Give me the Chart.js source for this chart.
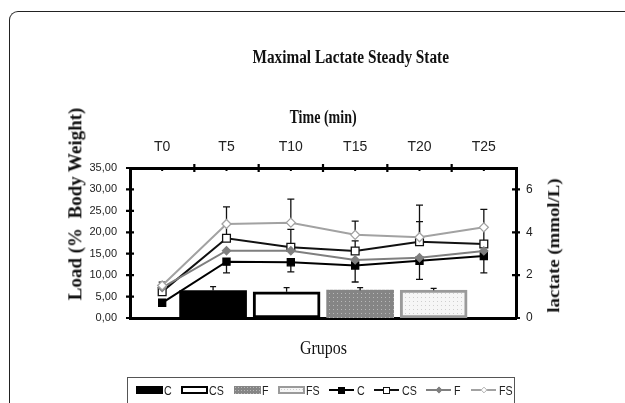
<!DOCTYPE html>
<html><head><meta charset="utf-8">
<script src="https://cdn.jsdelivr.net/npm/chart.js@4/dist/chart.umd.min.js"></script>
<style>
html,body{margin:0;padding:0;background:#fff;}
#wrap{position:relative;width:625px;height:403px;overflow:hidden;background:#fff;}
#frame{position:absolute;left:9px;top:11px;width:700px;height:500px;border-left:1.6px solid #222;border-top:1.6px solid #222;border-top-left-radius:9px;}
#c{position:absolute;left:0;top:0;}
.t{position:absolute;left:0;top:0;white-space:nowrap;font-family:"Liberation Serif","Times New Roman",serif;color:#111;line-height:1;}
#legend{position:absolute;left:127px;top:377px;width:388px;height:40px;border:1px solid #555;box-sizing:border-box;}
.sw{position:absolute;box-sizing:border-box;}
.lt{position:absolute;font-family:"Liberation Sans Narrow","Liberation Sans",Arial,sans-serif;font-size:13px;color:#222;line-height:1;transform-origin:0 50%;transform:translateY(-50%) scaleX(0.82);}
</style></head>
<body>
<div id="wrap">
  <div id="frame"></div>
  <canvas id="c" width="625" height="403"></canvas>
  <div class="t" id="title" style="font-weight:bold;font-size:18px;">Maximal Lactate Steady State</div>
  <div class="t" id="ttime" style="font-weight:bold;font-size:18px;">Time (min)</div>
  <div class="t" id="tgrp" style="font-size:18px;">Grupos</div>
  <div class="t" id="tload" style="font-weight:bold;font-size:18px;">Load (%&nbsp; Body Weight)</div>
  <div class="t" id="tlac" style="font-weight:bold;font-size:17px;">lactate (mmol/L)</div>
  <div id="legend"></div>
</div>
<script>
// ---- data ----
const groups = ['C', 'CS', 'F', 'FS'];
const timePoints = ['T0', 'T5', 'T10', 'T15', 'T20', 'T25'];
const loadMeans = [6.4, 6.1, 6.5, 6.5];
const loadErr = [0.9, 1.0, 0.57, 0.4];
const lacC  = [0.71, 2.63, 2.60, 2.45, 2.67, 2.89];
const lacCS = [1.23, 3.72, 3.30, 3.13, 3.56, 3.45];
const lacF  = [1.42, 3.14, 3.14, 2.71, 2.81, 3.13];
const lacFS = [1.52, 4.39, 4.45, 3.88, 3.77, 4.23];
const errC  = [0.17, 0.52, 0.45, 0.77, 0.87, 0.78];
const errCS = [0.20, 0.60, 0.84, 0.47, 0.94, 0.75];
const errFS = [0.15, 0.80, 1.10, 0.64, 1.50, 0.84];

// ---- text placement ----
function place(id, cx, cy, w, rot) {
  const el = document.getElementById(id);
  const s = w / el.offsetWidth;
  el.style.left = (cx - el.offsetWidth / 2) + 'px';
  el.style.top = (cy - el.offsetHeight / 2) + 'px';
  el.style.transform = (rot ? 'rotate(-90deg) ' : '') + 'scaleX(' + s + ')';
}
place('title', 350, 57, 196, false);
place('ttime', 323, 117, 67, false);
place('tgrp', 323, 348, 47, false);
place('tload', 75, 204, 193, true);
place('tlac', 553, 245, 134, true);

// ---- patterns ----
function dots(bg, dot) {
  const c = document.createElement('canvas'); c.width = 4; c.height = 4;
  const g = c.getContext('2d');
  g.fillStyle = bg; g.fillRect(0, 0, 4, 4);
  g.fillStyle = dot; g.fillRect(1, 1, 1, 1);
  return g.createPattern(c, 'repeat');
}
const patF = dots('#858585', '#b8b8b8');
const patFS = dots('#f6f6f6', '#cfcfcf');

const barFill = ['#000000', '#ffffff', patF, patFS];
const barBorder = ['#000000', '#000000', '#858585', '#9a9a9a'];
const barBorderW = [0, 3, 0, 3];

const lineDefs = [
  {label: groups[0], data: lacC, color: '#000000', style: 'rect', fill: '#000000', r: 5, err: errC, dir: -1},
  {label: groups[1], data: lacCS, color: '#111111', style: 'rect', fill: '#ffffff', r: 5.5, err: errCS, dir: 1},
  {label: groups[2], data: lacF, color: '#7f7f7f', style: 'rectRot', fill: '#7f7f7f', r: 4, err: null, dir: 1},
  {label: groups[3], data: lacFS, color: '#a2a2a2', style: 'rectRot', fill: '#ffffff', r: 4.5, err: errFS, dir: 1}
];

const errPlugin = {
  id: 'errbars',
  beforeDatasetsDraw(chart) {
    const ctx = chart.ctx, ys = chart.scales.y1;
    ctx.save();
    ctx.strokeStyle = '#111'; ctx.lineWidth = 1.3;
    chart.data.datasets.forEach((ds, di) => {
      if (!ds.errVals) return;
      const meta = chart.getDatasetMeta(di);
      meta.data.forEach((pt, i) => {
        const e = ds.errVals[i];
        const yEnd = ys.getPixelForValue(ds.data[i] + ds.errDir * e);
        ctx.beginPath();
        ctx.moveTo(pt.x, pt.y); ctx.lineTo(pt.x, yEnd);
        ctx.moveTo(pt.x - 3.5, yEnd); ctx.lineTo(pt.x + 3.5, yEnd);
        ctx.stroke();
      });
    });
    ctx.restore();
  },
  afterDatasetsDraw(chart) {
    const ctx = chart.ctx, ys = chart.scales.y;
    const meta = chart.getDatasetMeta(0);
    ctx.save();
    ctx.strokeStyle = '#111'; ctx.lineWidth = 1.3;
    meta.data.forEach((bar, i) => {
      const x = bar.x;
      const y0 = ys.getPixelForValue(loadMeans[i]);
      const y1 = ys.getPixelForValue(loadMeans[i] + loadErr[i]);
      ctx.beginPath();
      ctx.moveTo(x, y0); ctx.lineTo(x, y1);
      ctx.moveTo(x - 3, y1); ctx.lineTo(x + 3, y1);
      ctx.stroke();
    });
    ctx.restore();
  }
};

const tickPlugin = {
  id: 'crossTicks',
  afterDraw(chart) {
    const ctx = chart.ctx, a = chart.chartArea;
    const y = chart.scales.y, y1 = chart.scales.y1, xt = chart.scales.xTop;
    ctx.save();
    ctx.strokeStyle = '#000'; ctx.lineWidth = 2.2;
    ctx.beginPath();
    y.ticks.forEach(t => { const p = y.getPixelForValue(t.value); ctx.moveTo(a.left - 4, p); ctx.lineTo(a.left + 4, p); });
    y1.ticks.forEach(t => { const p = y1.getPixelForValue(t.value); ctx.moveTo(a.right - 4, p); ctx.lineTo(a.right + 4, p); });
    for (let i = 0; i < timePoints.length - 1; i++) {
      const p = xt.getPixelForValue(i + 0.5);
      ctx.moveTo(p, a.top - 4); ctx.lineTo(p, a.top + 4);
    }
    ctx.stroke();
    ctx.lineWidth = 2;
    ctx.beginPath();
    for (let i = 0; i < timePoints.length; i++) {
      const p = xt.getPixelForValue(i);
      ctx.moveTo(p, a.top - 1); ctx.lineTo(p, a.top + 3);
    }
    ctx.stroke();
    ctx.restore();
  }
};

const tickFont = {family: '"Liberation Sans Narrow","Liberation Sans",Arial,sans-serif'};

const datasets = [{
  type: 'bar',
  label: 'Load',
  data: loadMeans.map((v, i) => ({x: i + 1, y: v})),
  xAxisID: 'x', yAxisID: 'y',
  backgroundColor: barFill, borderColor: barBorder, borderWidth: barBorderW,
  borderSkipped: false, grouped: false,
  barThickness: 67, order: 10
}].concat(lineDefs.map((d, k) => ({
  type: 'line', label: d.label, data: d.data,
  xAxisID: 'xTop', yAxisID: 'y1',
  borderColor: d.color, borderWidth: 2, tension: 0,
  pointStyle: d.style, pointRadius: d.r, pointBackgroundColor: d.fill,
  pointBorderColor: d.color, pointBorderWidth: 1.3,
  errVals: d.err, errDir: d.dir, order: 4 - k
})));

new Chart(document.getElementById('c'), {
  data: {datasets},
  options: {
    responsive: false, animation: false, devicePixelRatio: 1,
    layout: {padding: {left: 90, right: 79, top: 128, bottom: 83}},
    plugins: {legend: {display: false}, tooltip: {enabled: false}, title: {display: false}},
    scales: {
      x: {type: 'linear', position: 'bottom', min: -0.13, max: 5.12, offset: false,
        ticks: {display: false}, grid: {display: false, drawTicks: false, offset: false},
        border: {display: true, width: 3, color: '#000'},
        afterFit: s => { s.height = 2; }},
      xTop: {type: 'category', labels: timePoints, position: 'top', offset: true,
        grid: {display: false, drawTicks: false, offset: true},
        border: {display: true, width: 3, color: '#000'},
        ticks: {padding: 12, color: '#222', autoSkip: false, maxRotation: 0,
          font: Object.assign({size: 14}, tickFont)},
        afterFit: s => { s.height = 40; }},
      y: {type: 'linear', position: 'left', min: 0, max: 35,
        grid: {display: false, drawTicks: false},
        border: {display: true, width: 3, color: '#000'},
        ticks: {stepSize: 5, padding: 13, color: '#222',
          font: Object.assign({size: 11}, tickFont),
          callback: v => v.toFixed(2).replace('.', ',')},
        afterFit: s => { s.width = 40; }},
      y1: {type: 'linear', position: 'right', min: 0, max: 7,
        grid: {display: false, drawTicks: false},
        border: {display: true, width: 3, color: '#000'},
        ticks: {stepSize: 2, padding: 10, color: '#222',
          font: Object.assign({size: 12}, tickFont)},
        afterBuildTicks: s => { s.ticks = s.ticks.filter(t => t.value % 2 === 0); },
        afterFit: s => { s.width = 30; }}
    }
  },
  plugins: [errPlugin, tickPlugin]
});

// ---- legend (HTML) ----
const leg = document.getElementById('legend');
const L = 127, T = 377;
const barSwX = [135, 180, 233, 277];
const lineSwX = [328, 373, 425, 470];
function add(cls, css, html) {
  const d = document.createElement('div'); d.className = cls;
  Object.assign(d.style, css); if (html) d.textContent = html; leg.appendChild(d); return d;
}
groups.forEach((g, i) => {
  const css = {left: (barSwX[i] - L) + 'px', top: (385 - T) + 'px', width: '27px', height: '8px'};
  if (i === 0) css.background = '#000';
  if (i === 1) { css.background = '#fff'; css.border = '2.5px solid #000'; }
  if (i === 2) { css.background = 'radial-gradient(#b8b8b8 0.6px, transparent 0.9px) 0 0/3px 3px, #858585'; }
  if (i === 3) { css.background = 'radial-gradient(#cfcfcf 0.6px, transparent 0.9px) 0 0/3px 3px, #f6f6f6'; css.border = '2px solid #9a9a9a'; }
  add('sw', css);
  add('lt', {left: (barSwX[i] + 28 - L) + 'px', top: (389 - T) + 'px'}, g);
});
lineDefs.forEach((d, i) => {
  const x0 = lineSwX[i] - L;
  add('sw', {left: x0 + 'px', top: (388 - T) + 'px', width: '25px', height: '2px', background: d.color});
  const m = d.style === 'rect' ? 7 : 6;
  const css = {left: (x0 + 12.5 - m / 2) + 'px', top: (389 - T - m / 2) + 'px', width: m + 'px', height: m + 'px',
    background: d.fill, border: '1.3px solid ' + d.color};
  if (d.style === 'rectRot') css.transform = 'rotate(45deg) scale(0.8)';
  add('sw', css);
  add('lt', {left: (x0 + 28) + 'px', top: (389 - T) + 'px'}, d.label);
});
</script>
</body></html>
